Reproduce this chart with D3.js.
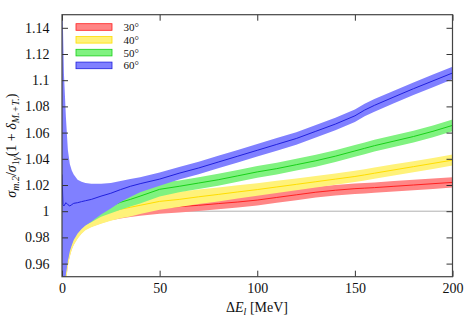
<!DOCTYPE html>
<html><head><meta charset="utf-8">
<script src="https://cdn.jsdelivr.net/npm/d3@7"></script>
<style>body{margin:0;background:#fff}svg{display:block}</style>
</head><body>
<svg id="c" width="475" height="319"></svg>
<script>
const X = [0,0.5,1,2,3,4,5,6,8,10,12,15,20,25,30,35,40,50,60,70,80,90,100,110,120,130,140,150,155,160,170,180,190,200];

const mid60 = [1.028,1.005,1.004,1.0065,1.005,1.004,1.005,1.006,1.0065,1.0073,1.008,1.009,1.0115,1.0137,1.0165,1.019,1.021,1.0245,1.029,1.033,1.0375,1.042,1.0465,1.051,1.0555,1.061,1.0665,1.0728,1.0772,1.0808,1.0872,1.0935,1.0995,1.1055];
const lo60 = [0.93,0.935,0.94,0.952,0.962,0.9695,0.974,0.978,0.983,0.9865,0.989,0.992,0.9975,1.002,1.007,1.0108,1.0145,1.0195,1.0242,1.0282,1.0327,1.0372,1.0417,1.0462,1.0507,1.0562,1.0617,1.068,1.0724,1.076,1.0824,1.0887,1.0947,1.1007];
const hi60 = [1.16,1.14,1.105,1.072,1.047,1.036,1.031,1.028,1.024,1.0225,1.0215,1.021,1.021,1.0215,1.023,1.0245,1.026,1.0295,1.0338,1.0378,1.0423,1.0468,1.0513,1.0558,1.0603,1.0658,1.0713,1.0776,1.082,1.0856,1.092,1.0983,1.1043,1.1103];

const mid50 = [1.0,0.99,0.99,0.992,0.994,0.995,0.996,0.997,0.998,0.999,0.9995,1.0005,1.002,1.004,1.0068,1.009,1.0115,1.0167,1.019,1.0215,1.024,1.027,1.030,1.0325,1.0355,1.0385,1.042,1.046,1.048,1.050,1.0535,1.057,1.061,1.0655];
const lo50 = [0.931,0.936,0.941,0.953,0.963,0.9705,0.975,0.979,0.984,0.9872,0.9893,0.9915,0.9958,0.9985,1.0012,1.0035,1.0058,1.0112,1.0145,1.017,1.0195,1.0225,1.0255,1.028,1.031,1.034,1.0375,1.0415,1.0435,1.0455,1.049,1.0525,1.0565,1.061];
const hi50 = [1.06,1.04,1.03,1.025,1.02,1.018,1.016,1.015,1.013,1.012,1.011,1.01,1.009,1.0105,1.0125,1.0145,1.017,1.022,1.0235,1.026,1.0285,1.0315,1.0345,1.037,1.04,1.043,1.0465,1.0505,1.0525,1.0545,1.058,1.0615,1.0655,1.07];

const mid40 = [0.97,0.975,0.978,0.982,0.985,0.987,0.988,0.989,0.991,0.992,0.993,0.995,0.997,0.9995,1.0015,1.003,1.0045,1.0075,1.009,1.011,1.0128,1.0147,1.0165,1.0185,1.0205,1.0225,1.0245,1.0265,1.0277,1.029,1.0315,1.034,1.0365,1.039];
const lo40 = [0.90,0.915,0.925,0.945,0.958,0.965,0.9705,0.974,0.979,0.9828,0.9855,0.9878,0.9905,0.9928,0.9947,0.996,0.9978,1.0012,1.0032,1.0055,1.0075,1.0096,1.0117,1.0138,1.016,1.0181,1.0202,1.0222,1.0234,1.0247,1.0272,1.0298,1.0323,1.0348];
const hi40 = [1.04,1.035,1.031,1.019,1.012,1.009,1.0055,1.004,1.003,1.0012,1.0005,1.0022,1.0035,1.0062,1.0083,1.01,1.0112,1.0138,1.0148,1.0165,1.0181,1.0198,1.0213,1.0232,1.025,1.0269,1.0288,1.0308,1.032,1.0333,1.0358,1.0382,1.0407,1.0432];

const mid30 = [0.965,0.97,0.973,0.978,0.981,0.983,0.985,0.986,0.988,0.99,0.991,0.993,0.995,0.997,0.998,0.999,1.0005,1.0025,1.0035,1.0045,1.0058,1.007,1.0085,1.0105,1.0125,1.0145,1.016,1.0172,1.0176,1.018,1.019,1.020,1.021,1.022];
const lo30 = [0.90,0.916,0.926,0.946,0.959,0.966,0.971,0.9745,0.9795,0.9832,0.986,0.9882,0.9908,0.993,0.9945,0.9955,0.9965,0.998,0.999,1.0002,1.0015,1.0028,1.0044,1.0064,1.0084,1.0104,1.012,1.0132,1.0136,1.014,1.015,1.016,1.017,1.018];
const hi30 = [1.03,1.025,1.02,1.01,1.003,1.0,0.999,0.998,0.997,0.997,0.996,0.998,0.999,1.001,1.0015,1.0025,1.0045,1.007,1.008,1.0088,1.0101,1.0112,1.0126,1.0146,1.0166,1.0186,1.02,1.0212,1.0216,1.022,1.023,1.024,1.025,1.026];

const seriesNames = ["30°","40°","50°","60°"];
const xTicks = [0,50,100,150,200];
const yTicks = [0.96,0.98,1,1.02,1.04,1.06,1.08,1.1,1.12,1.14];

const series = [
  {name:seriesNames[0], mid:mid30, lo:lo30, hi:hi30, band:"#ff8686", line:"#ff2020"},
  {name:seriesNames[1], mid:mid40, lo:lo40, hi:hi40, band:"#fff27a", line:"#ffdd00"},
  {name:seriesNames[2], mid:mid50, lo:lo50, hi:hi50, band:"#80f280", line:"#18d018"},
  {name:seriesNames[3], mid:mid60, lo:lo60, hi:hi60, band:"#8080ff", line:"#2020dd"}
];

const SERIF = "Liberation Serif, Times New Roman, serif";
const L=62, R=452.5, T=14.7, B=276.7;
const svg = d3.select("#c").attr("font-family", SERIF);
const x = d3.scaleLinear().domain([0,200]).range([L,R]);
const y = d3.scaleLinear().domain([0.95,1.15]).range([B,T]);

svg.append("defs").append("clipPath").attr("id","clip")
  .append("rect").attr("x",L).attr("y",T).attr("width",R-L).attr("height",B-T);

const plot = svg.append("g").attr("clip-path","url(#clip)");
plot.append("line").attr("x1",x(0)).attr("x2",x(200)).attr("y1",y(1)).attr("y2",y(1))
  .attr("stroke","#b0b0b0").attr("stroke-width",1);

series.forEach(s=>{
  const pts = X.map((xv,i)=>({x:xv,m:s.mid[i],lo:s.lo[i],hi:s.hi[i]}));
  plot.append("path").datum(pts)
    .attr("d", d3.area().x(d=>x(d.x)).y0(d=>y(d.lo)).y1(d=>y(d.hi)))
    .attr("fill", s.band);
  plot.append("path").datum(pts)
    .attr("d", d3.line().x(d=>x(d.x)).y(d=>y(d.m)))
    .attr("fill","none").attr("stroke", s.line).attr("stroke-width",1);
});

// axes
const fs = "14px";
const ax = svg.append("g").attr("transform",`translate(0,${B})`)
  .call(d3.axisBottom(x).tickValues(xTicks).tickSize(-6).tickPadding(6).tickFormat(d3.format("d")));
const axT = svg.append("g").attr("transform",`translate(0,${T})`)
  .call(d3.axisTop(x).tickValues(xTicks).tickSize(-6).tickFormat(""));
const ay = svg.append("g").attr("transform",`translate(${L},0)`)
  .call(d3.axisLeft(y).tickValues(yTicks).tickSize(-6).tickPadding(12.5).tickFormat(d=>String(+d.toFixed(2))));
const ayR = svg.append("g").attr("transform",`translate(${R},0)`)
  .call(d3.axisRight(y).tickValues(yTicks).tickSize(-6).tickFormat(""));
[ax,axT,ay,ayR].forEach(g=>{
  g.attr("font-family", SERIF).attr("font-size",fs);
  g.select(".domain").remove();
  g.selectAll(".tick line").attr("stroke","#333").attr("stroke-width",1);
  g.selectAll("text").attr("fill","#111");
});
svg.append("rect").attr("x",L).attr("y",T).attr("width",R-L).attr("height",B-T)
  .attr("fill","none").attr("stroke","#444").attr("stroke-width",1.2);

// legend
const lg = svg.append("g");
series.forEach((s,i)=>{
  const cy = 27 + i*12.8;
  lg.append("rect").attr("x",76).attr("y",cy-3.3).attr("width",36).attr("height",6.6)
    .attr("fill",s.band).attr("stroke",s.line).attr("stroke-width",0.8);
  lg.append("text").attr("x",123.5).attr("y",cy+4).attr("font-size","11px").attr("fill","#111").text(s.name);
});

// x label
const xl = svg.append("text").attr("x",257).attr("y",312).attr("text-anchor","middle").attr("font-size","14px").attr("fill","#111");
xl.append("tspan").text("Δ");
xl.append("tspan").attr("font-style","italic").text("E");
xl.append("tspan").attr("font-style","italic").attr("font-size","10px").attr("dy",3).text("l");
xl.append("tspan").attr("dy",-3).text(" [MeV]");

// y label
const yl = svg.append("text").attr("transform",`translate(16,${(T+B)/2}) rotate(-90)`)
  .attr("text-anchor","middle").attr("font-size","14px").attr("fill","#111");
yl.append("tspan").attr("font-style","italic").text("σ");
yl.append("tspan").attr("font-style","italic").attr("font-size","10px").attr("dy",3).text("m.2");
yl.append("tspan").attr("dy",-3).text("/");
yl.append("tspan").attr("font-style","italic").text("σ");
yl.append("tspan").attr("font-size","10px").attr("dy",3).text("1");
yl.append("tspan").attr("font-style","italic").attr("font-size","10px").text("γ");
yl.append("tspan").attr("dy",-3).text("(1 + ");
yl.append("tspan").attr("font-style","italic").text("δ");
yl.append("tspan").attr("font-style","italic").attr("font-size","10px").attr("dy",3).text("M.+T.");
yl.append("tspan").attr("dy",-3).text(")");
</script>
</body></html>
